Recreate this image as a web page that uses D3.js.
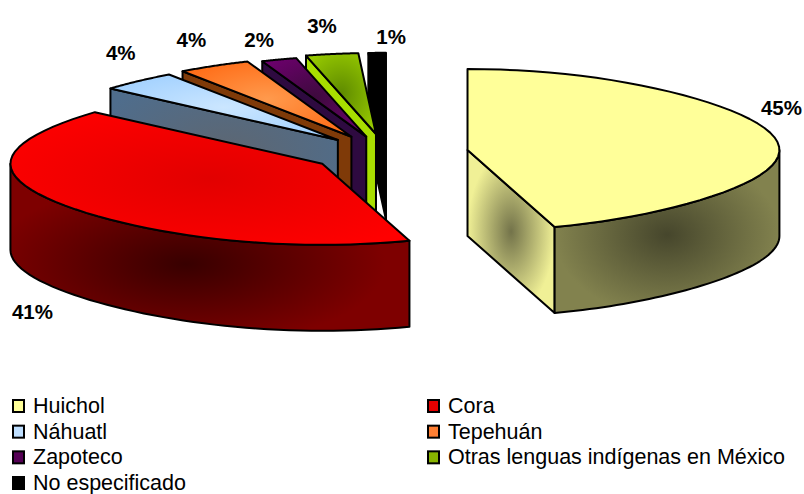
<!DOCTYPE html>
<html><head><meta charset="utf-8"><style>html,body{margin:0;background:#fff}svg{display:block}text{font-family:"Liberation Sans",Arial,sans-serif;fill:#000}</style>
<script src="https://cdn.jsdelivr.net/npm/d3@7"></script></head><body><script>
const categories=["Huichol","Cora","Náhuatl","Tepehuán","Zapoteco","Otras lenguas indígenas en México","No especificado"];
const values=[45,41,4,4,2,3,1];
const labels=["45%","41%","4%","4%","2%","3%","1%"];
const topColors=[["#ffff99","#ffff99"],["#e20000","#ff0000"],["#cbe6ff","#a0d0ff"],["#ff9a4d","#ff6a14"],["#3d0a3d","#6c006c"],["#5e8a00","#99cc00"],["#000000","#000000"]];
const faceColors=[["#73734a","#f0f096"],["#7c0000","#7c0000"],["#5e6670","#4f6d8c"],["#7f3a08","#7f3a08"],["#2e0a40","#2e0a40"],["#a8de00","#a8de00"],["#000000","#000000"]];
const rimColors=[["#46462c","#82824e"],["#380000","#7e0000"]];
const labelNudge=[[7,-22],[-43,110],[-18,-21],[-23,-19],[-20,-13],[-10,-21],[14,-9]];
const legendSwatch=["#ffff99","#e60000","#bfdfff","#ff7f33","#550055","#88b400","#000000"];
const explosion=[80,80,74,77,72,80,80];

const W=804,H=494,cx=388.5,cy=153,R=281,Ry=81,tilt=.24,D=86,bulge=.11;
const svg=d3.select("body").append("svg").attr("width",W).attr("height",H);
const defs=svg.append("defs");
const arcs=d3.pie().sort(null).startAngle(0).endAngle(2*Math.PI)(values);
const apex=(a,E)=>{const m=(a.startAngle+a.endAngle)/2;return [cx+E*Math.sin(m),cy-E*tilt*Math.cos(m)];};
const rim=(c,t)=>{const s=Math.sin(t);return [c[0]+R*s*(1+bulge*Math.abs(s*s*s)),c[1]-Ry*Math.cos(t)];};
const down=p=>[p[0],p[1]+D];
const samples=(t0,t1)=>d3.range(0,49).map(i=>d3.interpolateNumber(t0,t1)(i/48));
const line=d3.line();
function grad(id,c0,c1,fx,fy,r){
  const g=defs.append("radialGradient").attr("id",id).attr("cx",fx).attr("cy",fy).attr("r",r||.62);
  g.append("stop").attr("offset","0").attr("stop-color",c0);
  g.append("stop").attr("offset","1").attr("stop-color",c1);
  return `url(#${id})`;
}
function shape(points,fill,g){
  g.append("path").attr("d",line(points)+"Z").attr("fill",fill).attr("stroke","#000").attr("stroke-width",2).attr("stroke-linejoin","round");
}
const order=d3.range(values.length).reverse().filter(i=>i!==0).concat([0]);
const g=svg.append("g");
order.forEach(i=>{
  const a=arcs[i],c=apex(a,explosion[i]),a0=a.startAngle,a1=a.endAngle;
  const gs=g.append("g");
  if(a0>Math.PI){
    const p=rim(c,a0);
    shape([p,c,down(c),down(p)],grad("f"+i,faceColors[i][0],faceColors[i][1],.5,.5),gs);
  }
  if(a1<Math.PI){
    const p=rim(c,a1);
    shape([c,p,down(p),down(c)],grad("f"+i,faceColors[i][0],faceColors[i][1],.5,.5,.5),gs);
  }
  const s0=Math.max(a0,Math.PI/2),s1=Math.min(a1,3*Math.PI/2);
  if(s1>s0&&i<2){
    const pts=samples(s0,s1).map(t=>rim(c,t));
    shape(pts.concat(pts.map(down).reverse()),grad("r"+i,rimColors[i][0],rimColors[i][1],i?.44:.5,i?.6:.52,.5),gs);
  }
  const top=[c].concat(samples(a0,a1).map(t=>rim(c,t)));
  shape(top,grad("t"+i,topColors[i][0],topColors[i][1],.5,.5),gs);
  const m=(a0+a1)/2,lp=rim(c,m);
  svg.append("text").attr("x",lp[0]+labelNudge[i][0]).attr("y",lp[1]+labelNudge[i][1]).attr("text-anchor","middle")
    .attr("font-size",20.5).attr("font-weight","bold").text(labels[i]);
});
const col=d3.scaleOrdinal().domain([0,1]).range([12,427]);
const row=d3.scaleLinear().domain([0,3]).range([406,483]);
const lg=svg.append("g").selectAll("g").data(categories).join("g")
  .attr("transform",(d,i)=>`translate(${col(i%2===0||i===6?0:1)},${row(Math.floor(i/2))})`);
lg.append("rect").attr("x",1).attr("y",-6).attr("width",11).attr("height",12)
  .attr("fill",(d,i)=>legendSwatch[i]).attr("stroke","#000").attr("stroke-width",2);
lg.append("text").attr("x",21).attr("y",7).attr("font-size",21.5).text(d=>d);
</script></body></html>
